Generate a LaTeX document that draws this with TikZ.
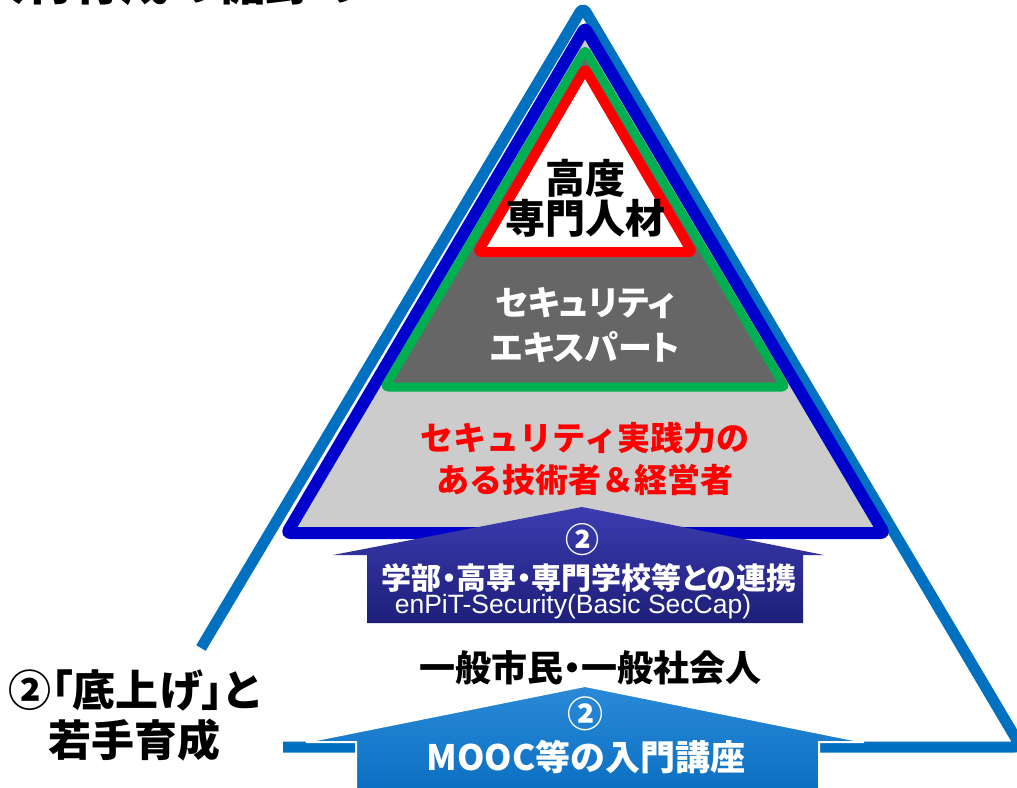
\documentclass[tikz,border=0pt]{standalone}
\usepackage{fontspec}
\newfontfamily\jp{Noto Sans CJK JP}
\newfontfamily\jpp{Noto Sans CJK JP}[RawFeature=+palt]
\newfontfamily\arialf{Liberation Sans}
\definecolor{outerblue}{HTML}{0070C0}
\definecolor{dblue}{HTML}{0000CC}
\definecolor{pgreen}{HTML}{00B050}
\definecolor{pred}{HTML}{FF0000}
\definecolor{lgray}{HTML}{CCCCCC}
\definecolor{dgray}{HTML}{666666}
\definecolor{navytop}{HTML}{3C3CB0}
\definecolor{navybot}{HTML}{1E1E7A}
\definecolor{lbtop}{HTML}{2A8AD8}
\definecolor{lbbot}{HTML}{0A6EC0}
\tikzset{
  tri/.style={line join=round},
  lbl/.style={inner sep=0pt, align=center},
}
\begin{document}
\begin{tikzpicture}[x=1pt,y=1pt]
\useasboundingbox (0,0) rectangle (1017,-787);
\clip (0,0) rectangle (1017,-787);
% title (clipped at top, as in the reference)
\node[anchor=base west, inner sep=0pt, font=\jp\bfseries\fontsize{48}{48}\selectfont] (title) at (-23,-1) {人材育成の裾野の};
% outer triangle
\draw[tri, outerblue, line width=11, rounded corners=6pt] (201,-648) -- (583,-7) -- (1021,-747) -- (283,-747);
% nested triangles
\draw[tri, dblue, fill=lgray, line width=12, rounded corners=3pt] (585,-28) -- (884,-533) -- (287,-533) -- cycle;
\draw[tri, pgreen, fill=dgray, line width=9, rounded corners=3pt] (585,-50) -- (785,-387) -- (385,-387) -- cycle;
\draw[tri, pred, fill=white, line width=10, rounded corners=3pt] (585,-69) -- (692,-252) -- (478,-252) -- cycle;
% navy arrow
\shade[top color=navytop, bottom color=navybot] (367,-623) -- (367,-555) -- (333,-555) -- (582,-507) -- (824,-555) -- (803,-555) -- (803,-623) -- cycle;
% light blue arrow
\shade[draw=white, line width=2, top color=lbtop, bottom color=lbbot] (356,-795) -- (356,-742) -- (306,-742) -- (585,-686) -- (864,-742) -- (819,-742) -- (819,-795) -- cycle;
% texts
\node[lbl, font=\jp\bfseries\fontsize{40}{40}\selectfont] (top) at (585,-198) {高度\\専門人材};
\node[lbl, text=white, font=\jpp\bfseries\fontsize{34}{45}\selectfont] (expert) at (585,-325) {セキュリティ\\エキスパート};
\node[lbl, text=pred, font=\jp\bfseries\fontsize{33}{42}\selectfont] (practice) at (585,-459) {セキュリティ実践力の\\ある技術者＆経営者};
\node[lbl, text=white, font=\jp\bfseries\fontsize{34}{34}\selectfont] (n2a) at (582,-540) {②};
\node[lbl, text=white, font=\jpp\bfseries\fontsize{30}{30}\selectfont] (univ) at (589,-578) {学部・高専・専門学校等との連携};
\node[lbl, text=white, font=\arialf\fontsize{26.5}{26.5}\selectfont] (enpit) at (573,-607) {enPiT-Security(Basic SecCap)};
\node[lbl, font=\jpp\bfseries\fontsize{36}{36}\selectfont] (citizen) at (590,-668) {一般市民・一般社会人};
\node[lbl, text=white, font=\jp\bfseries\fontsize{36}{36}\selectfont] (n2b) at (585,-714) {②};
\node[lbl, text=white, font=\jp\bfseries\fontsize{35}{35}\selectfont] (mooc) at (586,-757) {MOOC等の入門講座};
\node[lbl, font=\jpp\bfseries\fontsize{43}{50}\selectfont] (base) at (134,-715) {②「底上げ」と\\若手育成};
\end{tikzpicture}
\end{document}
